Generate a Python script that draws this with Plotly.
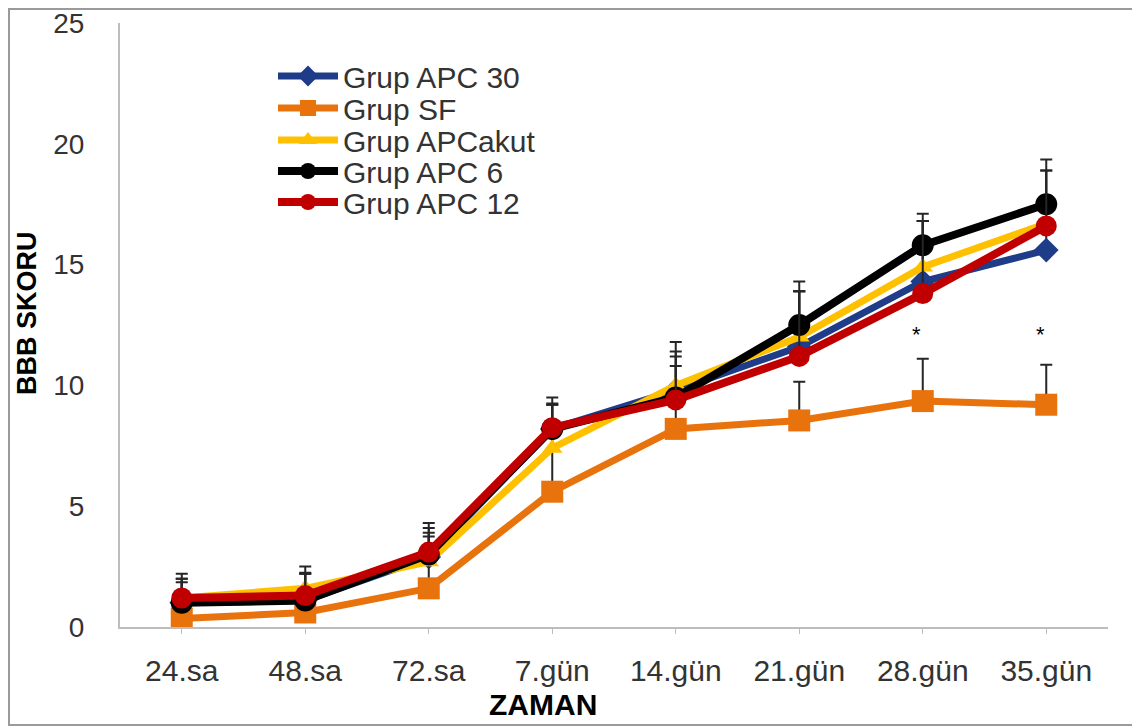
import plotly.graph_objects as go

categories = ["24.sa", "48.sa", "72.sa", "7.gün", "14.gün", "21.gün", "28.gün", "35.gün"]

apc30 = [1.0, 1.1, 2.9, 8.2, 9.8, 11.6, 14.3, 15.6]
sf = [0.35, 0.6, 1.6, 5.6, 8.2, 8.55, 9.35, 9.2]
apcakut = [1.2, 1.6, 2.7, 7.4, 10.0, 12.0, 14.9, 16.7]
apc6 = [1.0, 1.1, 3.0, 8.2, 9.5, 12.5, 15.8, 17.5]
apc12 = [1.2, 1.3, 3.1, 8.25, 9.4, 11.2, 13.8, 16.6]

apc30_err = [1.2, 1.1, 1.2, 1.0, 1.4, 2.3, 2.5, 1.2]
sf_err = [0.3, 0.5, 1.0, 1.8, 1.0, 1.6, 1.75, 1.65]
apcakut_err = [0.8, 0.65, 1.05, 1.8, 1.4, 1.9, 1.9, 2.2]
apc6_err = [1.0, 1.4, 1.3, 1.3, 2.3, 1.8, 1.3, 1.85]
apc12_err = [0.65, 0.9, 0.8, 1.0, 1.4, 2.7, 3.0, 2.3]

star_categories = ["28.gün", "35.gün"]
star_values = [12.1, 12.1]

series = [
    ("Grup APC 30", apc30, apc30_err, "#1F3C88", "diamond", 19, 7),
    ("Grup SF", sf, sf_err, "#E8720C", "square", 22, 7),
    ("Grup APCakut", apcakut, apcakut_err, "#FFC000", "triangle-up", 18, 7),
    ("Grup APC 6", apc6, apc6_err, "#000000", "circle", 22, 8),
    ("Grup APC 12", apc12, apc12_err, "#C00000", "circle", 21, 8),
]

# page offset: browser body margin is 8px
W, H = 1132, 720
ML, MR, MT, MB = 112, 32, 15, 101
PW = W - ML - MR
PH = H - MT - MB


def px(page_x):
    return (page_x - 8 - ML) / PW


def py(page_y):
    return (H - MB - (page_y - 8)) / PH


FONT = "Liberation Sans, Arial"
legend_rows_y = [76, 108, 140, 171, 202]

fig = go.Figure()
legend_layout = {}
for i, (name, vals, err, color, sym, msize, lw) in enumerate(series):
    lname = "legend" if i == 0 else f"legend{i + 1}"
    fig.add_trace(go.Scatter(
        x=categories, y=vals, name=name, mode="lines+markers",
        line=dict(color=color, width=lw),
        marker=dict(color=color, symbol=sym, size=msize),
        error_y=dict(type="data", array=err, arrayminus=[0] * len(err), symmetric=False,
                     color="#262626", thickness=2, width=6),
        legend=lname,
    ))
    legend_layout[lname] = dict(
        x=px(273), y=py(legend_rows_y[i]), xanchor="left", yanchor="middle",
        font=dict(family=FONT, size=30, color="#333333"), bgcolor="rgba(0,0,0,0)",
        itemwidth=60, borderwidth=0,
    )

for c, v in zip(star_categories, star_values):
    fig.add_annotation(x=c, y=v, text="*", showarrow=False, xshift=-6,
                       font=dict(family=FONT, size=22, color="#000"))

fig.add_annotation(text="<b>BBB SKORU</b>", xref="paper", yref="paper",
                   x=px(27), y=py(313), xanchor="center", yanchor="middle",
                   textangle=-90, showarrow=False,
                   font=dict(family=FONT, size=27, color="#000"))
fig.add_annotation(text="<b>ZAMAN</b>", xref="paper", yref="paper",
                   x=px(543), y=py(705), xanchor="center", yanchor="middle", showarrow=False,
                   font=dict(family=FONT, size=30, color="#000"))

fig.add_shape(type="rect", xref="paper", yref="paper",
              x0=px(9), x1=px(1137), y0=py(725), y1=py(9),
              line=dict(color="#9a9a9a", width=2), layer="below")

fig.update_layout(
    width=W, height=H,
    margin=dict(l=ML, r=MR, t=MT, b=MB, autoexpand=False),
    paper_bgcolor="white", plot_bgcolor="white",
    font=dict(family=FONT, color="#333333"),
    showlegend=True,
    xaxis=dict(type="category", categoryorder="array", categoryarray=categories,
               range=[-0.5, 7.5], showline=True, linecolor="#bdbdbd", linewidth=2,
               ticks="outside", ticklen=5, tickcolor="#bdbdbd", showgrid=False,
               automargin=False,
               tickfont=dict(size=30, color="#333333"), ticklabelstandoff=11, zeroline=False),
    yaxis=dict(range=[0, 25], tickvals=[0, 5, 10, 15, 20, 25], showline=True,
               linecolor="#bdbdbd", linewidth=2, showgrid=False, zeroline=False,
               ticklabeloverflow="allow", automargin=False,
               tickfont=dict(size=28, color="#333333"), ticklabelstandoff=28),
    **legend_layout,
)

fig.write_html("out.html")
